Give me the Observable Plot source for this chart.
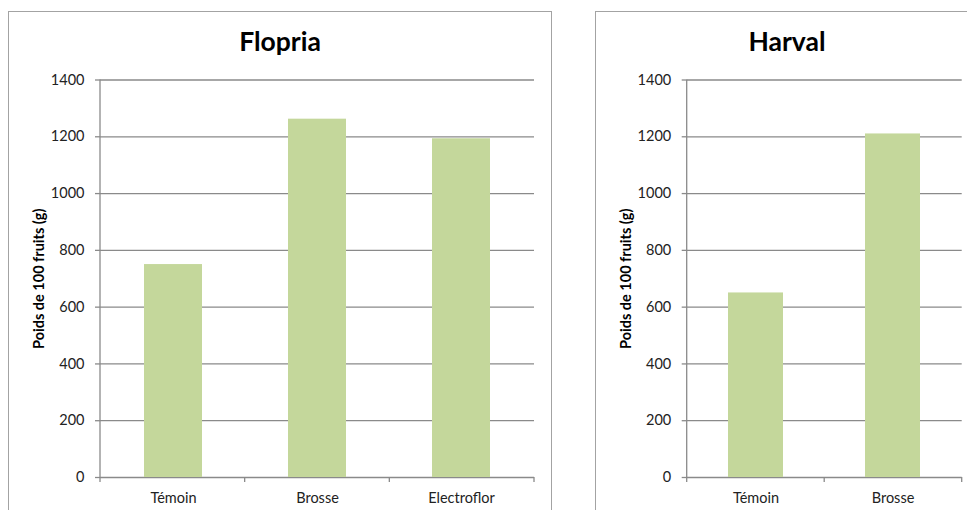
<!DOCTYPE html>
<html>
<head>
<meta charset="utf-8">
<script src="https://cdn.jsdelivr.net/npm/d3@7"></script>
<script src="https://cdn.jsdelivr.net/npm/@observablehq/plot@0.6"></script>
<style>
  html, body { margin: 0; padding: 0; background: #fff; }
  body { width: 967px; height: 510px; overflow: hidden; position: relative; font-family: Lato, "Open Sans", sans-serif; }
  .panel { position: absolute; box-sizing: border-box; border: 1.5px solid #a3a3a3; background: #fff; }
  .chart { position: absolute; top: 0; }
  .title { position: absolute; font-family: Lato, sans-serif; font-weight: bold; font-size: 26.5px; color: #000; text-align: center; white-space: nowrap; transform: translateX(-50%); line-height: 1; }
</style>
</head>
<body>
<div class="panel" style="left:8px; top:11px; width:544px; height:520px;"></div>
<div class="panel" style="left:595px; top:11px; width:400px; height:520px;"></div>
<div class="title" id="t1" style="left:280px; top:28px;"></div>
<div class="title" id="t2" style="left:787px; top:28px;"></div>
<div class="chart" id="c1" style="left:0px;"></div>
<div class="chart" id="c2" style="left:560px;"></div>
<script>
// ---- data ----
const titles = ["Flopria", "Harval"];
const yLabel = "Poids de 100 fruits (g)";
const yTicks = [0, 200, 400, 600, 800, 1000, 1200, 1400];
const floCategories = ["Témoin", "Brosse", "Electroflor"];
const floValues = [750, 1262, 1193];
const harCategories = ["Témoin", "Brosse"];
const harValues = [650, 1210];

const GRAY = "#8a8a8a";
const BAR = "#c4d79b";

function makeChart(categories, values, width, marginLeft, marginRight) {
  const data = categories.map((c, i) => ({cat: c, val: values[i]}));
  const frameLines = (index, scales, vals, dims) => {
    const g = d3.create("svg:g").attr("stroke", GRAY).attr("stroke-width", 1.3);
    const L = dims.marginLeft, R = dims.width - dims.marginRight;
    const T = dims.marginTop, B = dims.height - dims.marginBottom;
    g.append("line").attr("x1", L).attr("x2", L).attr("y1", T).attr("y2", B);
    const n = categories.length;
    for (let i = 0; i <= n; i++) {
      const x = L + i * (R - L) / n;
      g.append("line").attr("x1", x).attr("x2", x).attr("y1", B).attr("y2", B + 5);
    }
    return g.node();
  };
  return Plot.plot({
    width, height: 510,
    marginLeft, marginRight, marginTop: 79.5, marginBottom: 33,
    style: {fontFamily: "Lato, 'Open Sans', sans-serif", fontSize: "14.5px", color: "#222", background: "transparent"},
    x: {domain: categories, paddingInner: 0.6, paddingOuter: 0.3, align: 0.5},
    y: {domain: [0, 1400]},
    marks: [
      Plot.gridY(yTicks, {stroke: GRAY, strokeOpacity: 1, strokeWidth: 1.3}),
      Plot.axisY(yTicks, {tickSize: 5, tickPadding: 11, tickFormat: d => String(d), stroke: GRAY, strokeOpacity: 1, strokeWidth: 1.3, label: null, fontSize: 14.5, fill: "#222"}),
      Plot.barY(data, {x: "cat", y: "val", fill: BAR}),
      Plot.axisX({tickSize: 0, tickPadding: 15, label: null, fontSize: 14.5, fill: "#222"}),
      frameLines,
      Plot.text([yLabel], {text: d => d, frameAnchor: "left", textAnchor: "middle", rotate: -90, dx: -61, fontWeight: "bold", fontSize: 14.5, fill: "#000", clip: false})
    ]
  });
}

document.getElementById("t1").textContent = titles[0];
document.getElementById("t2").textContent = titles[1];
document.getElementById("c1").appendChild(makeChart(floCategories, floValues, 552, 100, 18));
document.getElementById("c2").appendChild(makeChart(harCategories, harValues, 407, 126.7, 5.3));
</script>
</body>
</html>
